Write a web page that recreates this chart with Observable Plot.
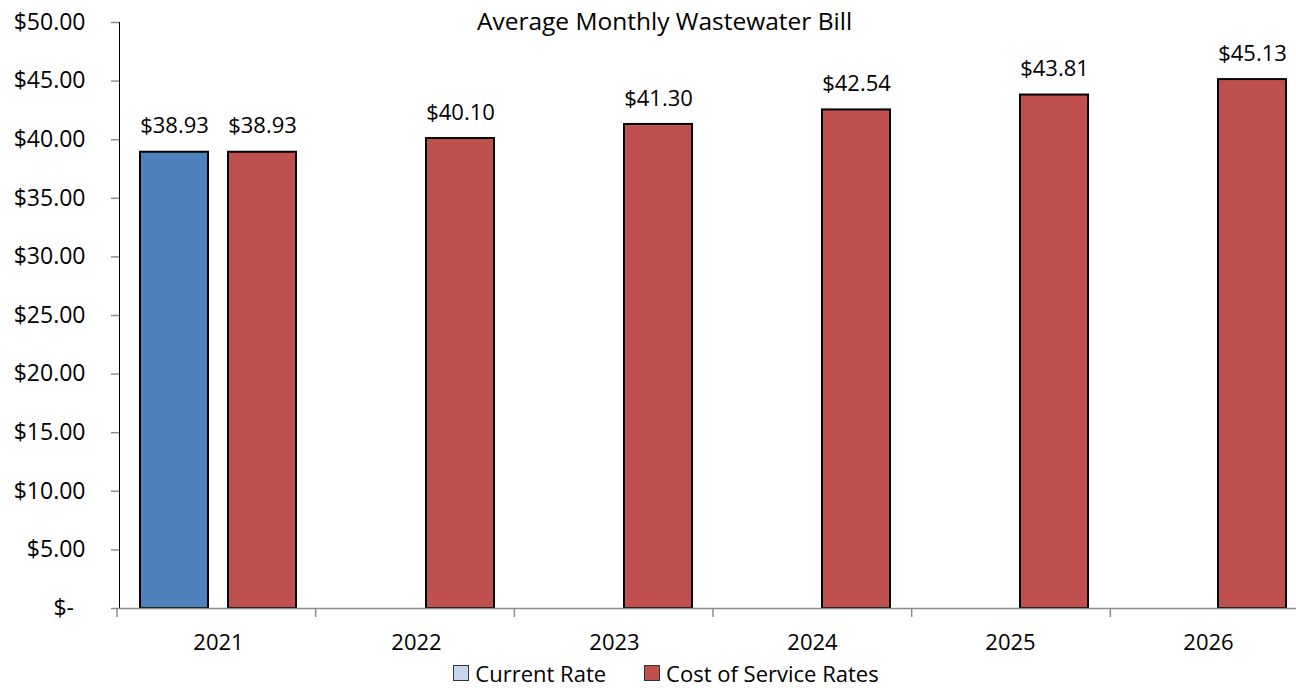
<!DOCTYPE html>
<html><head><meta charset="utf-8">
<script src="https://cdn.jsdelivr.net/npm/d3@7"></script>
<script src="https://cdn.jsdelivr.net/npm/@observablehq/plot@0.6"></script>
<style>
html,body{margin:0;padding:0;background:#fff;overflow:hidden;width:1296px;height:688px;}
#wrap{position:relative;width:1296px;height:688px;overflow:hidden;font-family:"Open Sans","Noto Sans",sans-serif;color:#000;}
#chart{position:absolute;left:0;top:0;}
#title{position:absolute;top:5px;left:0;width:1329px;text-align:center;font-size:24.5px;line-height:32px;}
#legend{position:absolute;top:661px;left:0;width:1332px;display:flex;justify-content:center;align-items:center;font-size:22px;line-height:24px;}
#legend .sw{display:inline-block;width:16px;height:16px;border:1.5px solid #333;margin-right:6px;box-sizing:border-box;}
#legend .item{display:flex;align-items:center;margin:0 19px;}
svg [aria-label^="y-axis"] line, svg [aria-label^="y-axis"] path{stroke:#8c8c8c;stroke-width:1.5px;stroke-opacity:1;}
svg [aria-label^="y-axis"] text{font-size:23px;}
</style>
</head><body>
<div id="wrap">
  <div id="chart"></div>
  <div id="title"></div>
  <div id="legend"></div>
</div>
<script>
const years = ["2021", "2022", "2023", "2024", "2025", "2026"];
const seriesNames = ["Current Rate", "Cost of Service Rates"];
const currentRate = [38.93, null, null, null, null, null];
const costOfService = [38.93, 40.10, 41.30, 42.54, 43.81, 45.13];
const yTicks = [0, 5, 10, 15, 20, 25, 30, 35, 40, 45, 50];
const seriesColors = ["#4F81BD", "#C0504D"];
const legendSwatches = ["#C6D6EC", "#C0504D"];
const titleText = "Average Monthly Wastewater Bill";

const rows = [];
years.forEach((yr, i) => {
  if (currentRate[i] != null) rows.push({year: yr, series: seriesNames[0], value: currentRate[i]});
  if (costOfService[i] != null) rows.push({year: yr, series: seriesNames[1], value: costOfService[i]});
});

const yFormat = d => d === 0 ? "$-\u2002" : "$" + d.toFixed(2);

const chart = Plot.plot({
  width: 1309,
  height: 650,
  marginLeft: 117,
  marginRight: 0,
  marginTop: 22,
  marginBottom: 42,
  style: {fontFamily: "'Open Sans', 'Noto Sans', sans-serif", fontSize: "22px", color: "#000", background: "transparent", overflow: "visible", maxWidth: "none"},
  facet: {data: rows, x: "year"},
  fx: {domain: years, padding: 0, label: null, axis: "bottom", tickSize: 0, tickPadding: 26},
  x: {domain: seriesNames, axis: null, paddingInner: 0.225, paddingOuter: 0.2275},
  y: {domain: [0, 50], ticks: yTicks, tickFormat: yFormat, tickSize: 8, tickPadding: 26, line: true, label: null},
  color: {domain: seriesNames, range: seriesColors},
  marks: [
    Plot.barY(rows, {x: "series", y: "value", fill: "series", stroke: "#000", strokeWidth: 2}),
    Plot.text(rows, {x: "series", y: "value", text: d => "$" + d.value.toFixed(2), dy: -26, fill: "#000", fontSize: 22}),
    Plot.ruleY([0], {stroke: "#8c8c8c", strokeWidth: 1.5})
  ]
});
chart.style.maxWidth = "none";
document.getElementById("chart").appendChild(chart);

// category boundary tick marks, from the plot's own fx and y scales
try {
  const fxs = chart.scale("fx");
  const band = d3.scaleBand(fxs.domain, fxs.range)
    .paddingInner(fxs.paddingInner || 0).paddingOuter(fxs.paddingOuter || 0).align(fxs.align ?? 0.5);
  const ys = chart.scale("y");
  const y0 = d3.scaleLinear(ys.domain, ys.range)(0);
  const bounds = years.map(v => band(v)).concat([band(years[years.length - 1]) + band.bandwidth()]);
  d3.select(chart).append("g").attr("aria-label", "x boundary ticks")
    .selectAll("line").data(bounds).join("line")
    .attr("x1", d => d).attr("x2", d => d)
    .attr("y1", y0).attr("y2", y0 + 9)
    .attr("stroke", "#8c8c8c").attr("stroke-width", 1.5);
} catch (e) { console.error(e); }

document.getElementById("title").textContent = titleText;
const legend = d3.select("#legend");
seriesNames.forEach((name, i) => {
  const it = legend.append("span").attr("class", "item");
  it.append("span").attr("class", "sw").style("background", legendSwatches[i]);
  it.append("span").text(name);
});
</script>
</body></html>
